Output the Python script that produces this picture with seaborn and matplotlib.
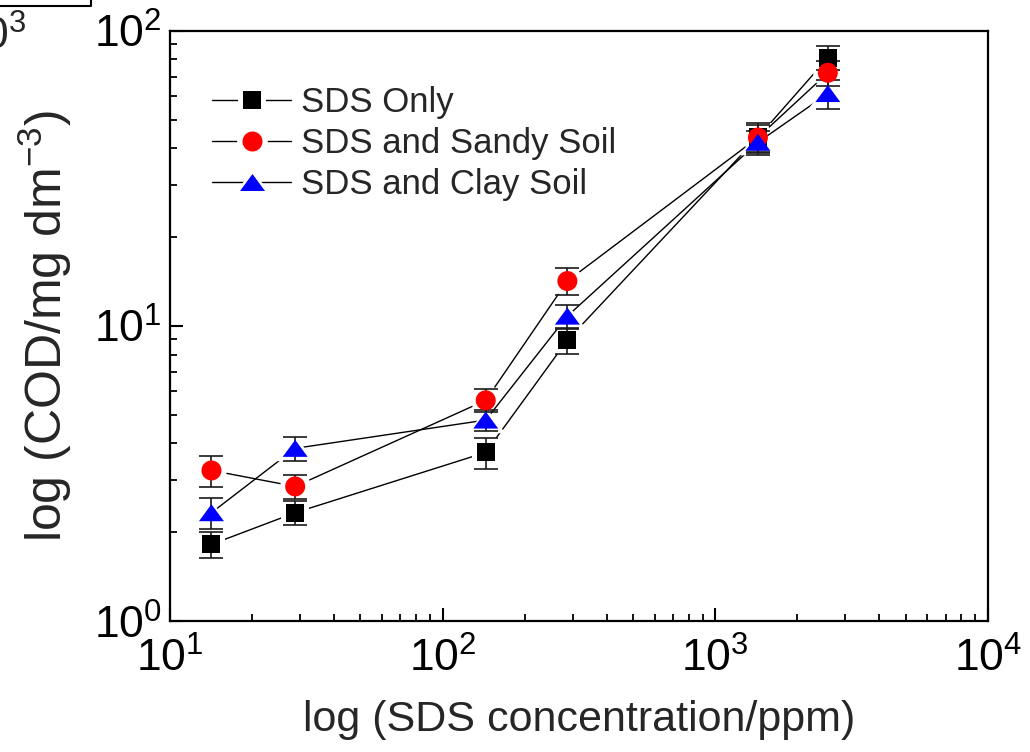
import numpy as np
import pandas as pd
import matplotlib
matplotlib.use("Agg")
import matplotlib.pyplot as plt
import seaborn as sns
from matplotlib.lines import Line2D
from matplotlib.legend_handler import HandlerTuple
from matplotlib.ticker import LogLocator, NullFormatter

# ---- data ----
conc = [14.2, 28.8, 144, 287, 1435, 2590]
series = ["SDS Only", "SDS and Sandy Soil", "SDS and Clay Soil"]
cod_only = [1.82, 2.33, 3.73, 8.95, 43.6, 81.0]
cod_sandy = [3.24, 2.86, 5.6, 14.2, 43.5, 72.1]
cod_clay = [2.33, 3.85, 4.8, 10.8, 41.9, 61.3]
err_only = [0.18, 0.22, 0.45, 0.9, 5.0, 7.5]
err_sandy = [0.40, 0.26, 0.5, 1.5, 4.5, 7.0]
err_clay = [0.28, 0.37, 0.4, 1.0, 4.0, 7.0]
x_ticks = [1e1, 1e2, 1e3, 1e4]
y_ticks = [1e0, 1e1, 1e2]

sns.set_style("ticks")
plt.rcParams["font.family"] = ["Liberation Sans", "DejaVu Sans"]
plt.rcParams["mathtext.fontset"] = "custom"
plt.rcParams["mathtext.rm"] = "Liberation Sans"
plt.rcParams["mathtext.it"] = "Liberation Sans:italic"
plt.rcParams["mathtext.bf"] = "Liberation Sans:bold"

tri = [(0, 0.68), (-1, -0.68), (1, -0.68)]
styles = [
    dict(vals=cod_only, err=err_only, color="black", marker="s", ms=13.0, halo=20.5),
    dict(vals=cod_sandy, err=err_sandy, color="red", marker="o", ms=14.4, halo=22.0),
    dict(vals=cod_clay, err=err_clay, color="blue", marker=tri, ms=18.0, halo=27.0),
]

fig = plt.figure(figsize=(10.30, 7.52), dpi=100)
ax = fig.add_axes([0.165, 0.174, 0.794, 0.785])

for st in styles:
    sns.lineplot(x=conc, y=st["vals"], ax=ax, color="black", lw=1.0,
                 marker=st["marker"], markersize=st["halo"],
                 markerfacecolor="white", markeredgecolor="white",
                 markeredgewidth=0, errorbar=None, zorder=2)
for st in styles:
    ax.errorbar(conc, st["vals"], yerr=st["err"], fmt="none", ecolor="#1a1a1a",
                elinewidth=1.2, capsize=8.5, capthick=1.2, zorder=3)
for st in styles:
    sns.scatterplot(x=conc, y=st["vals"], ax=ax, marker=st["marker"], s=st["ms"] ** 2,
                    color=st["color"], edgecolor="none", linewidth=0, zorder=4)

ax.set_xscale("log")
ax.set_yscale("log")
ax.set_xlim(10, 1e4)
ax.set_ylim(1, 100)
ax.set_xticks(x_ticks)
ax.set_yticks(y_ticks)
ax.xaxis.set_minor_locator(LogLocator(base=10, subs=np.arange(2, 10)))
ax.yaxis.set_minor_locator(LogLocator(base=10, subs=np.arange(2, 10)))
ax.xaxis.set_minor_formatter(NullFormatter())
ax.yaxis.set_minor_formatter(NullFormatter())

ax.tick_params(which="both", direction="in", top=False, right=False, colors="black")
ax.tick_params(which="major", length=9.5, width=1.5, labelsize=32)
ax.tick_params(which="minor", length=5, width=1.3)
ax.tick_params(axis="x", which="major", pad=12)
ax.tick_params(axis="y", which="major", pad=6)
for sp in ax.spines.values():
    sp.set_linewidth(1.6)
    sp.set_color("black")
    sp.set_visible(True)

ax.set_xlabel("log (SDS concentration/ppm)", fontsize=31, labelpad=14)
ax.set_ylabel("log (COD/mg dm$^{-3}$)", fontsize=36, labelpad=14)

handles = []
for st in styles:
    halo = Line2D([0], [0], color="black", lw=1.0, marker=st["marker"],
                  markersize=st["halo"], markerfacecolor="white",
                  markeredgecolor="white", markeredgewidth=0)
    mk = Line2D([0], [0], linestyle="none", marker=st["marker"], markersize=st["ms"],
                markerfacecolor=st["color"], markeredgecolor="none", markeredgewidth=0)
    handles.append((halo, mk))
leg = ax.legend(handles, series, loc="upper left", bbox_to_anchor=(0.035, 0.93),
                frameon=False, fontsize=25, handlelength=2.25, handletextpad=0.3,
                labelspacing=0.23, borderaxespad=0,
                handler_map={tuple: HandlerTuple(ndivide=1, pad=0)})

# fragment of a neighbouring panel cut off at the top-left corner
fig.text(0.026, 1 - 50 / 752, "10$^3$", fontsize=32, ha="right", va="baseline")
fig.add_artist(Line2D([0, 91 / 1030, 91 / 1030], [1 - 6 / 752, 1 - 6 / 752, 1.0],
                      transform=fig.transFigure, color="black", lw=1.5))

fig.savefig("out.png", dpi=100)
